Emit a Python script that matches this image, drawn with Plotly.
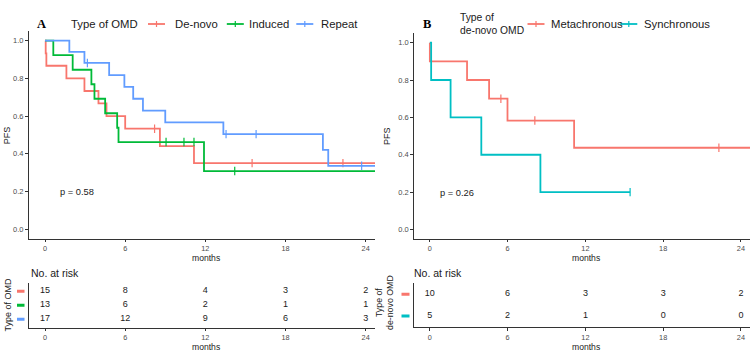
import plotly.graph_objects as go

W, H = 750, 353

# ---------------- data ----------------
ticks_x = [0, 6, 12, 18, 24]
ticks_y = [0.0, 0.2, 0.4, 0.6, 0.8, 1.0]

# Panel A: Type of OMD
a_names = ["De-novo", "Induced", "Repeat"]
a_colors = ["#F8766D", "#00BA38", "#619CFF"]
denovo_t = [0, 0.05, 0.1, 1.6, 2.95, 4.0, 4.6, 6.0, 8.6, 11.15, 25.5]
denovo_s = [1.0, 0.933, 0.867, 0.8, 0.733, 0.667, 0.6, 0.533, 0.44, 0.35, 0.35]
denovo_c = [8.2, 15.5, 22.3]
induced_t = [0, 0.62, 2.07, 3.47, 3.7, 4.5, 5.4, 5.5, 11.9, 25.5]
induced_s = [1.0, 0.923, 0.846, 0.769, 0.692, 0.615, 0.538, 0.462, 0.308, 0.308]
induced_c = [9.06, 10.4, 11.15, 14.2]
repeat_t = [0, 1.82, 2.95, 4.8, 5.94, 6.6, 7.33, 9.0, 13.35, 20.8, 21.2, 25.5]
repeat_s = [1.0, 0.941, 0.882, 0.817, 0.755, 0.692, 0.629, 0.566, 0.504, 0.42, 0.336, 0.336]
repeat_c = [3.17, 13.55, 15.8, 23.7]
a_risk = [[15, 8, 4, 3, 2], [13, 6, 2, 1, 1], [17, 12, 9, 6, 3]]
a_pval = "p = 0.58"

# Panel B: Type of de-novo OMD
b_names = ["Metachronous", "Synchronous"]
b_colors = ["#F8766D", "#00BFC4"]
meta_t = [0, 0.0, 2.87, 4.57, 5.99, 11.13, 25.5]
meta_s = [1.0, 0.9, 0.8, 0.7, 0.583, 0.4375, 0.4375]
meta_c = [5.48, 8.1, 22.3]
sync_t = [0, 0.1, 1.6, 3.97, 8.53, 15.45]
sync_s = [1.0, 0.8, 0.6, 0.4, 0.2, 0.2]
sync_c = [15.45]
b_risk = [[10, 6, 3, 3, 2], [5, 2, 1, 0, 0]]
b_pval = "p = 0.26"


def surv_at(ts, ss, t):
    v = ss[0]
    for ti, si in zip(ts, ss):
        if ti <= t:
            v = si
    return v


def px(x):
    return x / W


def py(y):
    return (H - y) / H


fig = go.Figure()

AXC = "#333333"
TICKC = "#4D4D4D"
FONT = "Liberation Sans, Arial, sans-serif"


def add_group(t, s, c, color, xa, ya):
    fig.add_trace(go.Scatter(x=t, y=s, mode="lines", line=dict(color=color, width=1.8, shape="hv"),
                             xaxis=xa, yaxis=ya, showlegend=False, hoverinfo="skip"))
    fig.add_trace(go.Scatter(x=c, y=[surv_at(t, s, v) for v in c], mode="markers",
                             marker=dict(symbol="line-ns", size=6, line=dict(color=color, width=1.2)),
                             xaxis=xa, yaxis=ya, showlegend=False, hoverinfo="skip"))


add_group(denovo_t, denovo_s, denovo_c, a_colors[0], "x", "y")
add_group(induced_t, induced_s, induced_c, a_colors[1], "x", "y")
add_group(repeat_t, repeat_s, repeat_c, a_colors[2], "x", "y")
add_group(meta_t, meta_s, meta_c, b_colors[0], "x2", "y2")
add_group(sync_t, sync_s, sync_c, b_colors[1], "x2", "y2")

# risk tables
for i, row in enumerate(a_risk):
    fig.add_trace(go.Scatter(x=ticks_x, y=[len(a_risk) - i] * 5, mode="text", text=[str(v) for v in row],
                             textfont=dict(size=9, color="#1a1a1a", family=FONT),
                             xaxis="x3", yaxis="y3", showlegend=False, hoverinfo="skip"))
for i, row in enumerate(b_risk):
    fig.add_trace(go.Scatter(x=ticks_x, y=[len(b_risk) - i] * 5, mode="text", text=[str(v) for v in row],
                             textfont=dict(size=9, color="#1a1a1a", family=FONT),
                             xaxis="x4", yaxis="y4", showlegend=False, hoverinfo="skip"))

xcommon = dict(range=[-1.2, 24.7], tickvals=ticks_x, ticks="outside", ticklen=2.5, tickcolor=AXC,
               showline=True, linecolor=AXC, linewidth=1, showgrid=False, zeroline=False,
               tickfont=dict(size=7.3, color=TICKC, family=FONT))
ycommon = dict(range=[-0.05, 1.05], tickvals=ticks_y, ticktext=["%.1f" % v for v in ticks_y],
               ticks="outside", ticklen=3, tickcolor=AXC, showline=True, linecolor=AXC, linewidth=1,
               showgrid=False, zeroline=False, tickfont=dict(size=7.5, color=TICKC, family=FONT))
yrisk = dict(showline=True, linecolor=AXC, linewidth=1, showgrid=False, zeroline=False,
             showticklabels=False, ticks="")

fig.update_layout(
    width=W, height=H, margin=dict(l=0, r=0, t=0, b=0),
    paper_bgcolor="white", plot_bgcolor="white",
    font=dict(family=FONT),
    xaxis=dict(domain=[px(29), px(375)], anchor="y", **xcommon),
    yaxis=dict(domain=[py(238.5), py(31.3)], anchor="x", **ycommon),
    xaxis2=dict(domain=[px(414.3), 1.0], anchor="y2", **xcommon),
    yaxis2=dict(domain=[py(238.8), py(33.3)], anchor="x2", **ycommon),
    xaxis3=dict(domain=[px(29), px(375)], anchor="y3", **xcommon),
    yaxis3=dict(domain=[py(327.7), py(282.7)], anchor="x3", range=[0.4, 3.6], **yrisk),
    xaxis4=dict(domain=[px(414.3), 1.0], anchor="y4", **xcommon),
    yaxis4=dict(domain=[py(327.3), py(282.7)], anchor="x4", range=[0.48, 2.53], **yrisk),
)

ann = []
shapes = []


def text(x, y, s, size, xanchor="left", angle=0, color="#1a1a1a", family=FONT, align="left"):
    ann.append(dict(x=px(x), y=py(y), xref="paper", yref="paper", text=s, showarrow=False,
                    xanchor=xanchor, yanchor="middle", textangle=angle, align=align,
                    font=dict(size=size, color=color, family=family)))


def key(xc, yc, color):
    shapes.append(dict(type="line", xref="paper", yref="paper", x0=px(xc - 8.5), x1=px(xc + 8.5),
                       y0=py(yc), y1=py(yc), line=dict(color=color, width=1.8)))
    shapes.append(dict(type="line", xref="paper", yref="paper", x0=px(xc), x1=px(xc),
                       y0=py(yc - 3), y1=py(yc + 3), line=dict(color=color, width=1.2)))


# panel labels and legends
text(41.5, 24, "<b>A</b>", 12.5, xanchor="center", family="Liberation Serif, Times New Roman, serif", color="black")
text(427.3, 24, "<b>B</b>", 12.5, xanchor="center", family="Liberation Serif, Times New Roman, serif", color="black")
text(140, 24, "Type of OMD", 11.3, xanchor="right")
for xc, xt, name, col in zip([156.5, 235.3, 304.8], [172.7, 247.3, 319.3], a_names, a_colors):
    key(xc, 24, col)
    text(xt, 24, name, 11.3)
text(458.5, 23.5, "Type of<br>de-novo OMD", 10.3)
for xc, xt, name, col in zip([536, 628.8], [549, 641.7], b_names, b_colors):
    key(xc, 24, col)
    text(xt, 24, name, 11.3)

# axis titles
text(7.3, 135, "PFS", 9, xanchor="center", angle=-90)
text(386.5, 136.5, "PFS", 9, xanchor="center", angle=-90)
text(205.5, 257.5, "months", 8.6, xanchor="center")
text(585.5, 257.5, "months", 8.6, xanchor="center")
text(205.5, 346.5, "months", 8.6, xanchor="center")
text(585.5, 346.5, "months", 8.6, xanchor="center")

# p values
text(58, 192.3, a_pval, 9.3)
text(437.7, 192.7, b_pval, 9.3)

# risk table titles
text(29, 273.3, "No. at risk", 10.5)
text(411.5, 273.3, "No. at risk", 10.5)
text(7.5, 305, "Type of OMD", 9, xanchor="center", angle=-90)
text(384, 303, "Type of<br>de-novo OMD", 8.8, xanchor="center", angle=-90, align="center")

# colored dashes for risk table rows
for i, col in enumerate(a_colors):
    shapes.append(dict(type="line", xref="paper", yref="y3", x0=px(17), x1=px(24.5),
                       y0=len(a_colors) - i, y1=len(a_colors) - i, line=dict(color=col, width=3)))
for i, col in enumerate(b_colors):
    shapes.append(dict(type="line", xref="paper", yref="y4", x0=px(401.5), x1=px(409.5),
                       y0=len(b_colors) - i, y1=len(b_colors) - i, line=dict(color=col, width=3)))

fig.update_layout(annotations=ann, shapes=shapes)
fig.write_html("out.html")
